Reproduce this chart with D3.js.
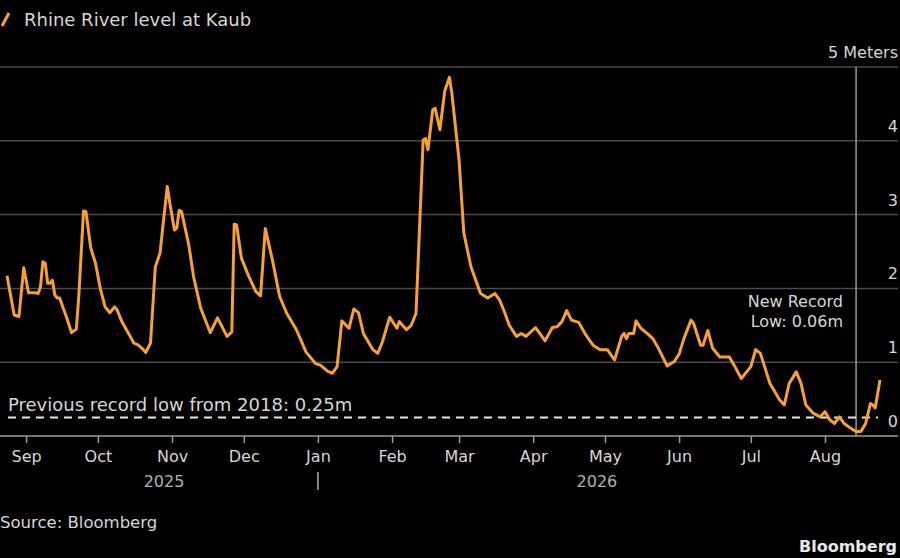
<!DOCTYPE html>
<html>
<head>
<meta charset="utf-8">
<script src="https://cdn.jsdelivr.net/npm/d3@7"></script>
<style>
  html, body { margin: 0; padding: 0; background: #000; }
  svg { display: block; }
  text { font-family: "DejaVu Sans", "Liberation Sans", sans-serif; fill: #d6d6d6; }
</style>
</head>
<body>
<div id="chart"></div>
<script>
// river level at Kaub, meters
var dates = [
  "2025-08-24","2025-08-27","2025-08-29","2025-08-31","2025-09-02","2025-09-05","2025-09-06","2025-09-07",
  "2025-09-08","2025-09-09","2025-09-10","2025-09-11","2025-09-12","2025-09-13","2025-09-14","2025-09-15",
  "2025-09-16","2025-09-18","2025-09-20","2025-09-22","2025-09-23","2025-09-25","2025-09-26","2025-09-28",
  "2025-09-30","2025-10-02","2025-10-04","2025-10-06","2025-10-08","2025-10-09","2025-10-11","2025-10-14",
  "2025-10-16","2025-10-18","2025-10-20","2025-10-21","2025-10-23","2025-10-25","2025-10-27","2025-10-28",
  "2025-10-30","2025-10-31","2025-11-02","2025-11-03","2025-11-04","2025-11-05","2025-11-08","2025-11-10",
  "2025-11-13","2025-11-17","2025-11-20","2025-11-24","2025-11-26","2025-11-27","2025-11-28","2025-11-30",
  "2025-12-03","2025-12-06","2025-12-08","2025-12-10","2025-12-13","2025-12-16","2025-12-19","2025-12-23",
  "2025-12-27","2025-12-31","2026-01-02","2026-01-05","2026-01-07","2026-01-09","2026-01-11","2026-01-14",
  "2026-01-16","2026-01-18","2026-01-20","2026-01-24","2026-01-26","2026-01-28","2026-01-31","2026-02-03",
  "2026-02-04","2026-02-07","2026-02-09","2026-02-11","2026-02-14","2026-02-15","2026-02-16","2026-02-18",
  "2026-02-19","2026-02-21","2026-02-23","2026-02-25","2026-02-26","2026-03-01","2026-03-03","2026-03-06",
  "2026-03-10","2026-03-13","2026-03-16","2026-03-18","2026-03-20","2026-03-22","2026-03-25","2026-03-27",
  "2026-03-29","2026-04-02","2026-04-06","2026-04-09","2026-04-11","2026-04-13","2026-04-15","2026-04-17",
  "2026-04-20","2026-04-23","2026-04-26","2026-04-29","2026-05-02","2026-05-05","2026-05-08","2026-05-09",
  "2026-05-10","2026-05-11","2026-05-13","2026-05-14","2026-05-16","2026-05-19","2026-05-21","2026-05-23",
  "2026-05-27","2026-05-30","2026-06-01","2026-06-03","2026-06-06","2026-06-07","2026-06-10","2026-06-11",
  "2026-06-13","2026-06-15","2026-06-18","2026-06-22","2026-06-24","2026-06-27","2026-07-01","2026-07-03",
  "2026-07-05","2026-07-09","2026-07-13","2026-07-15","2026-07-17","2026-07-20","2026-07-22","2026-07-24",
  "2026-07-27","2026-07-30","2026-08-01","2026-08-03","2026-08-05","2026-08-07","2026-08-09","2026-08-12",
  "2026-08-14","2026-08-16","2026-08-18","2026-08-20","2026-08-21","2026-08-22","2026-08-24"
];
var levels = [
  2.17,1.64,1.62,2.28,1.94,1.94,1.93,2.02,
  2.36,2.34,2.07,2.07,2.11,1.91,1.87,1.87,
  1.78,1.60,1.40,1.45,1.89,3.05,3.04,2.55,
  2.34,2.00,1.75,1.67,1.75,1.71,1.55,1.38,
  1.26,1.23,1.17,1.13,1.26,2.29,2.48,2.79,
  3.38,3.17,2.79,2.82,3.06,3.04,2.59,2.16,
  1.73,1.40,1.60,1.35,1.41,2.87,2.86,2.41,
  2.17,1.96,1.90,2.81,2.38,1.89,1.66,1.44,
  1.14,0.98,0.96,0.88,0.85,0.94,1.56,1.46,
  1.72,1.67,1.39,1.17,1.12,1.28,1.61,1.46,
  1.55,1.44,1.50,1.66,4.01,4.03,3.88,4.42,
  4.44,4.15,4.67,4.86,4.64,3.74,2.75,2.29,
  1.93,1.87,1.93,1.84,1.68,1.50,1.35,1.39,
  1.35,1.47,1.29,1.47,1.48,1.55,1.70,1.57,
  1.54,1.37,1.23,1.17,1.17,1.03,1.35,1.39,
  1.32,1.39,1.39,1.56,1.46,1.38,1.32,1.21,
  0.95,1.01,1.11,1.32,1.57,1.53,1.23,1.23,
  1.43,1.19,1.07,1.07,0.96,0.78,0.94,1.17,
  1.12,0.71,0.49,0.42,0.71,0.87,0.71,0.42,
  0.31,0.26,0.33,0.22,0.17,0.26,0.17,0.10,
  0.06,0.06,0.17,0.44,0.42,0.38,0.76
];
var yTicks = [0, 1, 2, 3, 4, 5];
var monthTicks = ["2025-09-01","2025-10-01","2025-11-01","2025-12-01","2026-01-01","2026-02-01",
                  "2026-03-01","2026-04-01","2026-05-01","2026-06-01","2026-07-01","2026-08-01"];
var yearLabels = [{year: "2025", at: "2025-11-01"}, {year: "2026", at: "2026-05-01"}];
var yearDivider = "2026-01-01";
var previousLow = 0.25;
var recordLowDate = "2026-08-14";

var parse = d3.timeParse("%Y-%m-%d");
var series = dates.map(function(d, i) { return {date: parse(d), level: levels[i]}; });

var W = 900, H = 558;
var svg = d3.select("#chart").append("svg")
    .attr("width", W)
    .attr("height", H);

var x = d3.scaleTime()
    .domain(d3.extent(series, function(d) { return d.date; }))
    .range([7, 880]);
var y = d3.scaleLinear()
    .domain([0, 5])
    .range([436, 67]);

// gridlines + right side labels
svg.append("g").selectAll("line")
    .data(yTicks.filter(function(t) { return t > 0; }))
    .enter().append("line")
    .attr("x1", 0).attr("x2", 898)
    .attr("y1", function(d) { return y(d); })
    .attr("y2", function(d) { return y(d); })
    .attr("stroke", "#4a4a4a")
    .attr("stroke-width", 1.5);

svg.append("g").selectAll("text")
    .data(yTicks)
    .enter().append("text")
    .attr("x", 898)
    .attr("y", function(d) { return y(d) - 9; })
    .attr("text-anchor", "end")
    .style("font-size", "16px")
    .text(function(d) { return d == 5 ? "5 Meters" : d; });

// record low marker
svg.append("line")
    .attr("x1", x(parse(recordLowDate))).attr("x2", x(parse(recordLowDate)))
    .attr("y1", y(5)).attr("y2", y(0))
    .attr("stroke", "#9a9a9a")
    .attr("stroke-width", 1.5);

// previous record low
svg.append("line")
    .attr("x1", 8).attr("x2", 878)
    .attr("y1", y(previousLow)).attr("y2", y(previousLow))
    .attr("stroke", "#e6e6e6")
    .attr("stroke-width", 2)
    .attr("stroke-dasharray", "8,6");
svg.append("text")
    .attr("x", 8)
    .attr("y", y(previousLow) - 7)
    .style("font-size", "18px")
    .text("Previous record low from 2018: " + previousLow + "m");

// x axis
var xAxis = svg.append("g")
    .attr("transform", "translate(0," + y(0) + ")")
    .call(d3.axisBottom(x)
        .tickValues(monthTicks.map(parse))
        .tickFormat(d3.timeFormat("%b"))
        .tickSize(7)
        .tickSizeOuter(0));
xAxis.select(".domain").remove();
xAxis.selectAll(".tick line").attr("stroke", "#9a9a9a").attr("stroke-width", 1.5);
xAxis.selectAll(".tick text")
    .attr("y", 15)
    .style("font-size", "16px")
    .style("font-family", "'DejaVu Sans', sans-serif")
    .attr("fill", "#d6d6d6");
svg.append("line")
    .attr("x1", 0).attr("x2", 898)
    .attr("y1", y(0)).attr("y2", y(0))
    .attr("stroke", "#9a9a9a")
    .attr("stroke-width", 1.5);

svg.append("g").selectAll("text")
    .data(yearLabels)
    .enter().append("text")
    .attr("x", function(d) { return x(parse(d.at)) - 8; })
    .attr("y", 487)
    .attr("text-anchor", "middle")
    .style("font-size", "16px")
    .style("fill", "#b0b0b0")
    .text(function(d) { return d.year; });
svg.append("line")
    .attr("x1", x(parse(yearDivider))).attr("x2", x(parse(yearDivider)))
    .attr("y1", 472).attr("y2", 490)
    .attr("stroke", "#b0b0b0")
    .attr("stroke-width", 1.5);

// level line
svg.append("path")
    .datum(series)
    .attr("fill", "none")
    .attr("stroke", "#f7a133")
    .attr("stroke-width", 3)
    .attr("stroke-linejoin", "round")
    .attr("d", d3.line()
        .x(function(d) { return x(d.date); })
        .y(function(d) { return y(d.level); }));

// annotation
var note = svg.append("text")
    .attr("x", 843)
    .attr("text-anchor", "end")
    .style("font-size", "16px");
note.append("tspan").attr("x", 843).attr("y", 307).text("New Record");
note.append("tspan").attr("x", 843).attr("y", 327).text("Low: 0.06m");

// legend
svg.append("line")
    .attr("x1", 2).attr("y1", 26).attr("x2", 9).attr("y2", 13)
    .attr("stroke", "#f7a133")
    .attr("stroke-width", 3);
svg.append("text")
    .attr("x", 24)
    .attr("y", 26)
    .style("font-size", "18px")
    .text("Rhine River level at Kaub");

// footer
svg.append("text")
    .attr("x", 0)
    .attr("y", 528)
    .style("font-size", "16.5px")
    .text("Source: Bloomberg");
svg.append("text")
    .attr("x", 897)
    .attr("y", 552)
    .attr("text-anchor", "end")
    .style("font-size", "16px")
    .style("font-weight", "bold")
    .style("fill", "#e8e8e8")
    .text("Bloomberg");
</script>
</body>
</html>
